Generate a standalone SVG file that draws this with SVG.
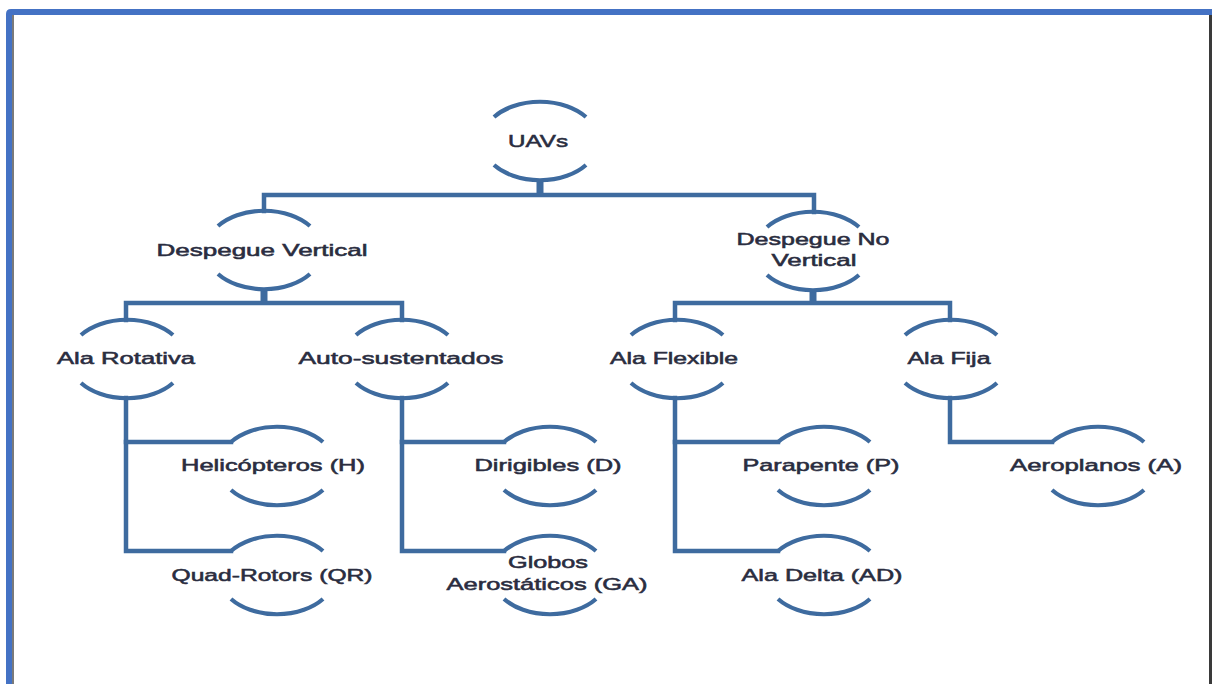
<svg xmlns="http://www.w3.org/2000/svg" xmlns:xlink="http://www.w3.org/1999/xlink" width="1212" height="684" viewBox="0 0 1212 684">
  <style>
    .arc { fill: none; stroke: #3e6b9f; stroke-width: 4.2; stroke-linecap: butt; }
    .ln { fill: none; stroke: #3e6b9f; stroke-width: 4.5; stroke-linejoin: miter; stroke-linecap: square; }
    .stub { fill: none; stroke: #3e6b9f; stroke-width: 7; }
    .lbl { font-family: "Liberation Sans", Arial, sans-serif; font-size: 17px; fill: #2a2d40; stroke: #2a2d40; stroke-width: 0.55; text-anchor: middle; }
  </style>
  <defs>
    <g id="ring">
      <path class="arc" d="M -46 -24 A 58 39 0 0 1 46 -24"/>
      <path class="arc" d="M -46 24 A 58 39 0 0 0 46 24"/>
    </g>
  </defs>
  <rect width="1212" height="684" fill="#ffffff"/>
  <!-- frame -->
  <g id="frame">
    <path d="M 6 684 V 14 Q 6 9 11 9 H 1212 V 15 H 12 V 684 Z" fill="#4472c4"/>
    <rect x="12" y="15" width="2" height="669" fill="#7a7a7a"/>
    <rect x="1209" y="15" width="3" height="669" fill="#3a3a3a"/>
  </g>
  <!-- connectors -->
  <g id="connectors">
    <path class="stub" d="M 540 180 V 196"/>
    <path class="ln" d="M 264 211 V 195 H 814 V 212"/>
    <path class="stub" d="M 264 289 V 304"/>
    <path class="ln" d="M 126 320 V 303 H 402 V 320"/>
    <path class="stub" d="M 813 290 V 304"/>
    <path class="ln" d="M 675 320 V 303 H 950 V 320"/>
    <path class="ln" d="M 126 398 V 551 H 231"/>
    <path class="ln" d="M 126 442 H 231"/>
    <path class="ln" d="M 402 398 V 551 H 504"/>
    <path class="ln" d="M 402 442 H 504"/>
    <path class="ln" d="M 675 398 V 551 H 778"/>
    <path class="ln" d="M 675 442 H 778"/>
    <path class="ln" d="M 950 398 V 442 H 1052"/>
  </g>
  <!-- nodes -->
  <g id="n-uavs">
    <use xlink:href="#ring" x="540" y="141"/>
    <text class="lbl" x="538" y="147" textLength="60" lengthAdjust="spacingAndGlyphs">UAVs</text>
  </g>
  <g id="n-despegue-vertical">
    <use xlink:href="#ring" x="264" y="250"/>
    <text class="lbl" x="262" y="256" textLength="211" lengthAdjust="spacingAndGlyphs">Despegue Vertical</text>
  </g>
  <g id="n-despegue-no-vertical">
    <use xlink:href="#ring" x="813" y="251"/>
    <text class="lbl" x="813" y="245" textLength="153" lengthAdjust="spacingAndGlyphs">Despegue No</text>
    <text class="lbl" x="814" y="266" textLength="85" lengthAdjust="spacingAndGlyphs">Vertical</text>
  </g>
  <g id="n-ala-rotativa">
    <use xlink:href="#ring" x="127" y="359"/>
    <text class="lbl" x="126" y="364" textLength="138" lengthAdjust="spacingAndGlyphs">Ala Rotativa</text>
  </g>
  <g id="n-auto-sustentados">
    <use xlink:href="#ring" x="402" y="359"/>
    <text class="lbl" x="401" y="364" textLength="205" lengthAdjust="spacingAndGlyphs">Auto-sustentados</text>
  </g>
  <g id="n-ala-flexible">
    <use xlink:href="#ring" x="677" y="359"/>
    <text class="lbl" x="674" y="364" textLength="128" lengthAdjust="spacingAndGlyphs">Ala Flexible</text>
  </g>
  <g id="n-ala-fija">
    <use xlink:href="#ring" x="951" y="359"/>
    <text class="lbl" x="949" y="364" textLength="83" lengthAdjust="spacingAndGlyphs">Ala Fija</text>
  </g>
  <g id="n-helicopteros">
    <use xlink:href="#ring" x="277" y="466"/>
    <text class="lbl" x="273" y="471" textLength="184" lengthAdjust="spacingAndGlyphs">Helicópteros (H)</text>
  </g>
  <g id="n-quad-rotors">
    <use xlink:href="#ring" x="277" y="575"/>
    <text class="lbl" x="272" y="581" textLength="201" lengthAdjust="spacingAndGlyphs">Quad-Rotors (QR)</text>
  </g>
  <g id="n-dirigibles">
    <use xlink:href="#ring" x="550" y="466"/>
    <text class="lbl" x="548" y="471" textLength="147" lengthAdjust="spacingAndGlyphs">Dirigibles (D)</text>
  </g>
  <g id="n-globos">
    <use xlink:href="#ring" x="550" y="575"/>
    <text class="lbl" x="548" y="568" textLength="80" lengthAdjust="spacingAndGlyphs">Globos</text>
    <text class="lbl" x="547" y="590" textLength="201" lengthAdjust="spacingAndGlyphs">Aerostáticos (GA)</text>
  </g>
  <g id="n-parapente">
    <use xlink:href="#ring" x="824" y="466"/>
    <text class="lbl" x="821" y="471" textLength="157" lengthAdjust="spacingAndGlyphs">Parapente (P)</text>
  </g>
  <g id="n-ala-delta">
    <use xlink:href="#ring" x="824" y="575"/>
    <text class="lbl" x="822" y="581" textLength="161" lengthAdjust="spacingAndGlyphs">Ala Delta (AD)</text>
  </g>
  <g id="n-aeroplanos">
    <use xlink:href="#ring" x="1098" y="466"/>
    <text class="lbl" x="1096" y="471" textLength="172" lengthAdjust="spacingAndGlyphs">Aeroplanos (A)</text>
  </g>
</svg>
